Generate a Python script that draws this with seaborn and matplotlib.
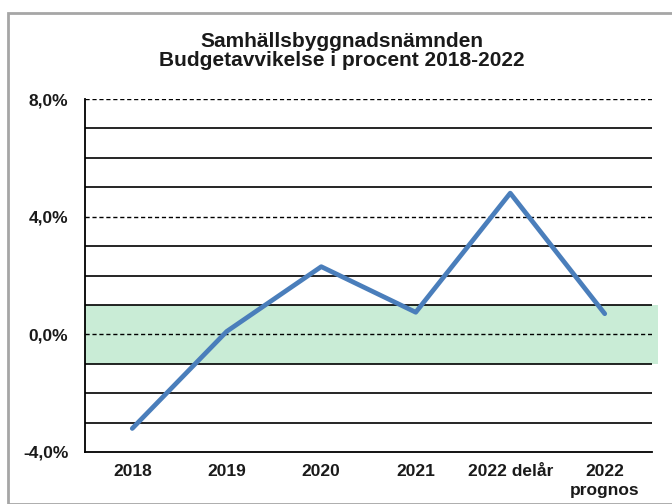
import matplotlib
matplotlib.use("Agg")
import matplotlib.pyplot as plt
import seaborn as sns
import pandas as pd
from matplotlib.patches import Rectangle

# Data
categories = ["2018", "2019", "2020", "2021", "2022 delår", "2022\nprognos"]
deviation = [-3.2, 0.1, 2.3, 0.75, 4.8, 0.7]
y_ticks = [-4, 0, 4, 8]
y_labels = ["-4,0%", "0,0%", "4,0%", "8,0%"]

df = pd.DataFrame({"Period": categories, "Avvikelse": deviation})

sns.set_style("white")
plt.rcParams["font.family"] = ["Liberation Sans", "DejaVu Sans"]

fig = plt.figure(figsize=(6.72, 5.04), dpi=100)
ax = fig.add_axes([85 / 672, 1 - 452 / 504, (652 - 85) / 672, (452 - 99) / 504])

# outer grey frame
fig.patches.append(Rectangle((8 / 672, 0.0), 1.0, 1 - 13 / 504, transform=fig.transFigure,
                             fill=False, edgecolor="#a6a6a6", linewidth=2, zorder=0))

# tolerance band
ax.axhspan(-1, 1, xmin=0, xmax=1.011, facecolor="#c9ecd6", edgecolor="none", zorder=0, clip_on=False)

# gridlines
for v in range(-3, 9):
    if v % 4 == 0:
        ax.axhline(v, color="black", linewidth=1.0, linestyle=(0, (3, 2)), zorder=1)
    else:
        ax.axhline(v, color="black", linewidth=1.2, zorder=1)

sns.lineplot(data=df, x="Period", y="Avvikelse", sort=False, color="#4a7ebb",
             linewidth=3.4, ax=ax, zorder=3)

ax.set_xlim(-0.5, len(categories) - 0.5)
ax.set_ylim(-4, 8)
ax.set_yticks(y_ticks)
ax.set_yticklabels(y_labels)
ax.set_xticks(range(len(categories)))
ax.set_xticklabels(categories, linespacing=1.3)
ax.tick_params(axis="both", length=0, labelsize=12.5)
ax.tick_params(axis="y", pad=12)
ax.tick_params(axis="x", pad=9)
for lbl in ax.get_xticklabels() + ax.get_yticklabels():
    lbl.set_fontweight("bold")
    lbl.set_color("#1a1a1a")
ax.set_xlabel("")
ax.set_ylabel("")

for side in ["top", "right"]:
    ax.spines[side].set_visible(False)
for side in ["left", "bottom"]:
    ax.spines[side].set_color("black")
    ax.spines[side].set_linewidth(1.3)

fig.text(342 / 672, 1 - 51 / 504, "Samhällsbyggnadsnämnden\nBudgetavvikelse i procent 2018-2022",
         ha="center", va="center", fontsize=15, fontweight="bold", color="#1a1a1a", linespacing=1.0)

fig.savefig("out.png", dpi=100)
